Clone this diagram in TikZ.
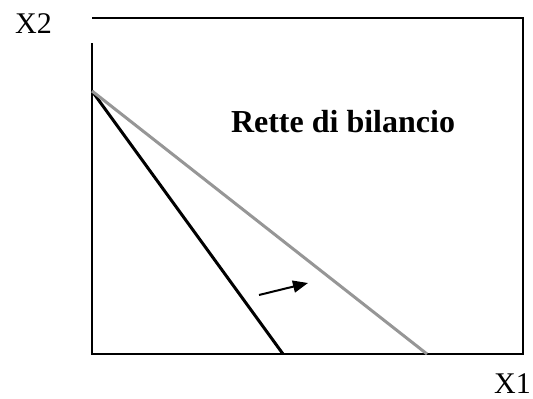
\documentclass[tikz,border=0pt]{standalone}
\usepackage{fontspec}
\setmainfont{Liberation Serif}
\usetikzlibrary{arrows.meta}
\begin{document}
\begin{tikzpicture}[x=1pt,y=-1pt,
  frame/.style={line width=2pt,black},
  budget/.style={line width=3pt},
  lbl/.style={inner sep=0pt,anchor=base west,font=\fontsize{30}{30}\selectfont}]
\useasboundingbox (0,0) rectangle (533,399);
\coordinate (tl) at (92,18);
\coordinate (tr) at (523,18);
\coordinate (br) at (523,354);
\coordinate (bl) at (92,354);
\coordinate (gap) at (92,43);
\coordinate (o) at (92,91);
\coordinate (b1) at (283,354);
\coordinate (b2) at (427,354);
\draw[frame] (tl) -- (tr) -- (br) -- (bl) -- (gap);
\draw[budget,black] (o) -- (b1);
\draw[budget,color={rgb,255:red,150;green,150;blue,150}] (o) -- (b2);
\coordinate (a0) at (259,295);
\coordinate (a1) at (308,283);
\draw[line width=2pt,-{Triangle[length=15pt,width=12pt]}] (a0) -- (a1);
\node[inner sep=0pt,anchor=base,font=\fontsize{32}{32}\selectfont\bfseries] (t) at (343,132) {Rette di bilancio};
\node[lbl] (x2) at (15,33) {X2};
\node[lbl] (x1) at (494,393) {X1};
\end{tikzpicture}
\end{document}
